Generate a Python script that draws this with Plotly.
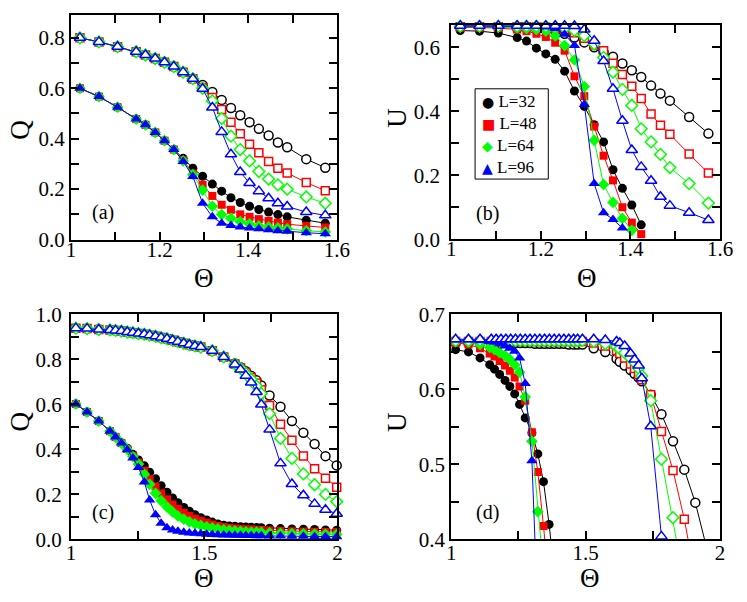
import plotly.graph_objects as go

FONT = "Liberation Serif, Times New Roman, serif"
SIZES_L = [32, 48, 64, 96]
COLORS = {32: "#000000", 48: "#ff0000", 64: "#00ff00", 96: "#0000ff"}
SYMBOLS = {32: "circle", 48: "square", 64: "diamond", 96: "triangle-up"}
GLYPHS = {32: "●", 48: "■", 64: "◆", 96: "▲"}
MSIZE = {32: 9, 48: 8, 64: 9, 96: 10}

# ---------------- panel (a): Q vs Theta ----------------
theta_a = [1.02, 1.063, 1.105, 1.147, 1.168, 1.19, 1.211, 1.232, 1.253, 1.275, 1.297,
           1.319, 1.34, 1.361, 1.382, 1.403, 1.424, 1.446, 1.467, 1.488, 1.531, 1.574]

qa_fill_32 = [0.600, 0.567, 0.525, 0.478, 0.455, 0.425, 0.392, 0.357, 0.322, 0.283, 0.251,
              0.220, 0.192, 0.166, 0.147, 0.132, 0.119, 0.109, 0.099, 0.090, 0.077, 0.065]
qa_fill_48 = [0.600, 0.567, 0.525, 0.478, 0.455, 0.425, 0.392, 0.357, 0.315, 0.262, 0.217,
              0.173, 0.138, 0.118, 0.100, 0.090, 0.081, 0.074, 0.067, 0.061, 0.054, 0.048]
qa_fill_64 = [0.600, 0.567, 0.525, 0.478, 0.455, 0.425, 0.392, 0.357, 0.312, 0.258, 0.196,
              0.132, 0.099, 0.084, 0.071, 0.062, 0.054, 0.050, 0.046, 0.042, 0.035, 0.030]
qa_fill_96 = [0.600, 0.567, 0.525, 0.478, 0.455, 0.425, 0.392, 0.357, 0.310, 0.250, 0.144,
              0.090, 0.065, 0.056, 0.050, 0.046, 0.043, 0.039, 0.035, 0.033, 0.027, 0.023]

qa_open_32 = [0.800, 0.784, 0.765, 0.745, 0.732, 0.718, 0.703, 0.686, 0.664, 0.638, 0.613,
              0.585, 0.554, 0.522, 0.493, 0.465, 0.439, 0.413, 0.385, 0.366, 0.319, 0.285]
qa_open_48 = [0.800, 0.784, 0.765, 0.745, 0.732, 0.718, 0.703, 0.686, 0.664, 0.638, 0.603,
              0.563, 0.516, 0.465, 0.420, 0.378, 0.344, 0.310, 0.283, 0.264, 0.226, 0.194]
qa_open_64 = [0.800, 0.784, 0.765, 0.745, 0.732, 0.718, 0.703, 0.686, 0.664, 0.638, 0.600,
              0.550, 0.480, 0.410, 0.357, 0.312, 0.270, 0.240, 0.217, 0.200, 0.169, 0.144]
qa_open_96 = [0.800, 0.784, 0.765, 0.745, 0.732, 0.718, 0.703, 0.686, 0.664, 0.638, 0.598,
              0.524, 0.427, 0.338, 0.268, 0.224, 0.192, 0.164, 0.144, 0.131, 0.109, 0.096]

# ---------------- panel (b): U vs Theta ----------------
theta_b = theta_a

ub_fill_32 = [0.652, 0.650, 0.644, 0.630, 0.619, 0.597, 0.579, 0.562, 0.525, 0.463, 0.415,
              0.358, 0.304, 0.217, 0.159, 0.107, 0.045]
ub_fill_48 = [0.662, 0.662, 0.660, 0.655, 0.650, 0.642, 0.632, 0.614, 0.589, 0.509, 0.447,
              0.352, 0.261, 0.184, 0.100, 0.052, 0.016]
ub_fill_64 = [0.664, 0.664, 0.663, 0.660, 0.658, 0.655, 0.650, 0.635, 0.605, 0.560, 0.477,
              0.309, 0.171, 0.115, 0.065, 0.028]
ub_fill_96 = [0.666, 0.666, 0.666, 0.666, 0.666, 0.665, 0.663, 0.658, 0.640, 0.605, 0.421,
              0.174, 0.083, 0.062, 0.035]

ub_open_32 = [0.663, 0.663, 0.662, 0.661, 0.660, 0.658, 0.655, 0.650, 0.642, 0.630, 0.615,
              0.600, 0.584, 0.570, 0.549, 0.528, 0.507, 0.480, 0.455, 0.433, 0.382, 0.330]
ub_open_48 = [0.664, 0.664, 0.664, 0.664, 0.664, 0.663, 0.662, 0.660, 0.655, 0.645, 0.628,
              0.607, 0.589, 0.550, 0.515, 0.478, 0.440, 0.391, 0.356, 0.328, 0.266, 0.207]
ub_open_64 = [0.665, 0.665, 0.665, 0.665, 0.665, 0.665, 0.664, 0.663, 0.660, 0.652, 0.636,
              0.610, 0.568, 0.522, 0.468, 0.418, 0.345, 0.304, 0.265, 0.224, 0.174, 0.113]
ub_open_96 = [0.667, 0.667, 0.667, 0.667, 0.667, 0.667, 0.667, 0.667, 0.667, 0.666, 0.655,
              0.620, 0.557, 0.470, 0.370, 0.279, 0.226, 0.183, 0.133, 0.105, 0.083, 0.060]

# ---------------- panel (c): Q vs Theta ----------------
theta_c_hi = [1.018, 1.06, 1.104, 1.146, 1.167, 1.189, 1.211, 1.232, 1.253, 1.275, 1.295,
              1.317, 1.338, 1.36, 1.381, 1.401, 1.423, 1.444, 1.465, 1.487, 1.53, 1.573,
              1.615, 1.636, 1.656, 1.676, 1.696, 1.714, 1.745, 1.786, 1.829, 1.872, 1.914,
              1.955, 1.997]
qc_open_32 = [0.939, 0.937, 0.933, 0.931, 0.929, 0.926, 0.922, 0.919, 0.915, 0.912, 0.908,
              0.903, 0.897, 0.892, 0.885, 0.879, 0.872, 0.865, 0.860, 0.855, 0.839, 0.811,
              0.782, 0.765, 0.747, 0.727, 0.707, 0.684, 0.640, 0.590, 0.526, 0.474, 0.424,
              0.370, 0.329]
qc_open_48 = [0.939, 0.937, 0.933, 0.931, 0.929, 0.926, 0.922, 0.919, 0.915, 0.912, 0.908,
              0.903, 0.897, 0.892, 0.885, 0.879, 0.872, 0.865, 0.860, 0.855, 0.839, 0.811,
              0.780, 0.762, 0.742, 0.720, 0.695, 0.665, 0.595, 0.512, 0.441, 0.371, 0.314,
              0.272, 0.232]
qc_open_64 = [0.939, 0.937, 0.933, 0.931, 0.929, 0.926, 0.922, 0.919, 0.915, 0.912, 0.908,
              0.903, 0.897, 0.892, 0.885, 0.879, 0.872, 0.865, 0.860, 0.855, 0.839, 0.811,
              0.779, 0.760, 0.737, 0.712, 0.682, 0.648, 0.559, 0.449, 0.360, 0.291, 0.243,
              0.200, 0.168]
qc_open_96 = [0.939, 0.937, 0.933, 0.931, 0.929, 0.926, 0.922, 0.919, 0.915, 0.912, 0.908,
              0.903, 0.897, 0.892, 0.885, 0.879, 0.872, 0.865, 0.860, 0.855, 0.839, 0.811,
              0.778, 0.755, 0.728, 0.698, 0.655, 0.600, 0.488, 0.338, 0.246, 0.196, 0.158,
              0.132, 0.114]

theta_c_lo = [1.018, 1.06, 1.104, 1.146, 1.167, 1.189, 1.211, 1.232, 1.253, 1.275, 1.295,
              1.317, 1.338, 1.36, 1.381, 1.401, 1.423, 1.444, 1.465, 1.487, 1.509, 1.53,
              1.551, 1.573, 1.594, 1.615, 1.636, 1.656, 1.676, 1.696, 1.714, 1.745, 1.786,
              1.829, 1.872, 1.914, 1.955, 1.997]
qc_fill_32 = [0.602, 0.566, 0.526, 0.481, 0.455, 0.430, 0.405, 0.378, 0.353, 0.327, 0.299,
              0.270, 0.239, 0.210, 0.184, 0.163, 0.142, 0.125, 0.110, 0.096, 0.086, 0.077,
              0.069, 0.063, 0.060, 0.058, 0.056, 0.055, 0.054, 0.053, 0.052, 0.050, 0.048,
              0.046, 0.045, 0.044, 0.042, 0.041]
qc_fill_48 = [0.602, 0.566, 0.526, 0.481, 0.455, 0.428, 0.402, 0.372, 0.342, 0.305, 0.268,
              0.235, 0.204, 0.178, 0.155, 0.135, 0.118, 0.104, 0.092, 0.082, 0.074, 0.066,
              0.060, 0.055, 0.052, 0.049, 0.047, 0.045, 0.044, 0.043, 0.042, 0.040, 0.038,
              0.036, 0.035, 0.034, 0.033, 0.033]
qc_fill_64 = [0.602, 0.566, 0.526, 0.481, 0.455, 0.428, 0.400, 0.368, 0.335, 0.290, 0.245,
              0.205, 0.172, 0.145, 0.122, 0.104, 0.090, 0.078, 0.069, 0.062, 0.056, 0.051,
              0.047, 0.043, 0.040, 0.038, 0.036, 0.034, 0.033, 0.032, 0.031, 0.029, 0.027,
              0.026, 0.025, 0.024, 0.023, 0.022]
qc_fill_96 = [0.602, 0.566, 0.526, 0.481, 0.455, 0.428, 0.398, 0.362, 0.320, 0.255, 0.175,
              0.110, 0.072, 0.052, 0.042, 0.036, 0.032, 0.029, 0.027, 0.025, 0.023, 0.022,
              0.021, 0.020, 0.019, 0.018, 0.018, 0.017, 0.017, 0.016, 0.016, 0.015, 0.015,
              0.014, 0.014, 0.013, 0.013, 0.012]

# ---------------- panel (d): U vs Theta ----------------
theta_d_hi = [1.016, 1.064, 1.107, 1.149, 1.167, 1.185, 1.203, 1.221, 1.239, 1.257, 1.275,
              1.293, 1.311, 1.329, 1.347, 1.365, 1.383, 1.401, 1.419, 1.437, 1.455, 1.47,
              1.488, 1.53, 1.573, 1.615, 1.627, 1.645, 1.667, 1.682, 1.697, 1.709, 1.742,
              1.782, 1.825, 1.867, 1.908, 1.95]
ud_open_32 = [0.662, 0.662, 0.662, 0.662, 0.662, 0.662, 0.662, 0.662, 0.662, 0.662, 0.662,
              0.662, 0.661, 0.661, 0.661, 0.661, 0.661, 0.661, 0.661, 0.660, 0.660, 0.660,
              0.660, 0.655, 0.650, 0.641, 0.637, 0.632, 0.626, 0.621, 0.616, 0.611, 0.593,
              0.567, 0.531, 0.493, 0.449, 0.389]
ud_open_48 = [0.664, 0.664, 0.664, 0.664, 0.664, 0.664, 0.664, 0.664, 0.664, 0.664, 0.664,
              0.664, 0.664, 0.664, 0.664, 0.664, 0.664, 0.664, 0.664, 0.664, 0.664, 0.664,
              0.664, 0.662, 0.658, 0.652, 0.648, 0.642, 0.634, 0.628, 0.620, 0.613, 0.593,
              0.544, 0.492, 0.427, 0.348]
ud_open_64 = [0.665, 0.665, 0.665, 0.665, 0.665, 0.665, 0.665, 0.665, 0.665, 0.665, 0.665,
              0.665, 0.665, 0.665, 0.665, 0.665, 0.665, 0.665, 0.665, 0.665, 0.665, 0.665,
              0.665, 0.664, 0.661, 0.657, 0.654, 0.649, 0.642, 0.636, 0.628, 0.618, 0.585,
              0.507, 0.429, 0.342]
ud_open_96 = [0.667, 0.667, 0.667, 0.667, 0.667, 0.667, 0.667, 0.667, 0.667, 0.667, 0.667,
              0.667, 0.667, 0.667, 0.667, 0.667, 0.667, 0.667, 0.667, 0.667, 0.667, 0.667,
              0.667, 0.667, 0.666, 0.664, 0.662, 0.658, 0.648, 0.640, 0.632, 0.615, 0.551,
              0.404, 0.270]

theta_d_lo = [1.016, 1.064, 1.107, 1.143, 1.161, 1.18, 1.2, 1.218, 1.236, 1.254, 1.275,
              1.3, 1.322, 1.343, 1.364, 1.385]
ud_fill_32 = [0.653, 0.650, 0.642, 0.633, 0.627, 0.620, 0.612, 0.604, 0.594, 0.580, 0.562,
              0.542, 0.514, 0.477, 0.420, 0.350]
ud_fill_48 = [0.662, 0.660, 0.655, 0.648, 0.644, 0.638, 0.632, 0.625, 0.616, 0.604, 0.585,
              0.543, 0.490, 0.418, 0.340]
ud_fill_64 = [0.664, 0.663, 0.660, 0.656, 0.653, 0.649, 0.645, 0.640, 0.633, 0.623, 0.590,
              0.531, 0.437, 0.360]
ud_fill_96 = [0.666, 0.666, 0.665, 0.664, 0.663, 0.661, 0.658, 0.655, 0.651, 0.642, 0.608,
              0.505, 0.300]

panels = [
    ("x", "y", theta_a, theta_a,
     {32: qa_fill_32, 48: qa_fill_48, 64: qa_fill_64, 96: qa_fill_96},
     {32: qa_open_32, 48: qa_open_48, 64: qa_open_64, 96: qa_open_96}, False),
    ("x2", "y2", theta_b, theta_b,
     {32: ub_fill_32, 48: ub_fill_48, 64: ub_fill_64, 96: ub_fill_96},
     {32: ub_open_32, 48: ub_open_48, 64: ub_open_64, 96: ub_open_96}, False),
    ("x3", "y3", theta_c_lo, theta_c_hi,
     {32: qc_fill_32, 48: qc_fill_48, 64: qc_fill_64, 96: qc_fill_96},
     {32: qc_open_32, 48: qc_open_48, 64: qc_open_64, 96: qc_open_96}, False),
    ("x4", "y4", theta_d_lo, theta_d_hi,
     {32: ud_fill_32, 48: ud_fill_48, 64: ud_fill_64, 96: ud_fill_96},
     {32: ud_open_32, 48: ud_open_48, 64: ud_open_64, 96: ud_open_96}, True),
]

fig = go.Figure()

for xa, ya, x_lo, x_hi, filled, opened, clip in panels:
    for L in SIZES_L:
        c = COLORS[L]
        fig.add_trace(go.Scatter(
            x=x_lo[:len(filled[L])], y=filled[L], mode="lines+markers",
            xaxis=xa, yaxis=ya, showlegend=False, cliponaxis=clip, hoverinfo="skip",
            line=dict(color=c, width=1),
            marker=dict(symbol=SYMBOLS[L], size=MSIZE[L], color=c, line=dict(width=0))))
        fig.add_trace(go.Scatter(
            x=x_hi[:len(opened[L])], y=opened[L], mode="lines+markers",
            xaxis=xa, yaxis=ya, showlegend=False, cliponaxis=clip, hoverinfo="skip",
            line=dict(color=c, width=1),
            marker=dict(symbol=SYMBOLS[L], size=MSIZE[L], color="white",
                        line=dict(color=c, width=1.5))))

W, H = 747, 602


def px_x(p):
    return p / W


def px_y(p):
    return 1 - p / H


def axis(a0, a1, rng, dtick, minor, fmt=None, anchor=None, standoff=0, vertical=False):
    dom = [px_y(a1), px_y(a0)] if vertical else [px_x(a0), px_x(a1)]
    d = dict(domain=dom, range=rng, dtick=dtick, tick0=rng[0],
             showline=True, mirror="ticks", linecolor="black", linewidth=2,
             ticks="inside", ticklen=8, tickwidth=2, tickcolor="black",
             minor=dict(dtick=minor, ticks="inside", ticklen=8, tickwidth=2,
                        tickcolor="black", showgrid=False),
             tickfont=dict(family=FONT, size=21, color="black"),
             ticklabelstandoff=standoff,
             showgrid=False, zeroline=False, anchor=anchor)
    if fmt:
        d["tickformat"] = fmt
    return d


fig.update_layout(
    width=W, height=H,
    margin=dict(l=0, r=0, t=0, b=0),
    paper_bgcolor="white", plot_bgcolor="white",
    showlegend=False,
    xaxis=axis(67.7, 340, [1, 1.6], 0.2, 0.1, anchor="y", standoff=-10),
    yaxis=axis(3.3, 237, [0, 0.89], 0.2, 0.1, ".1f", anchor="x", vertical=True),
    xaxis2=axis(457.3, 732.7, [1, 1.6], 0.2, 0.1, anchor="y2", standoff=-10),
    yaxis2=axis(13.3, 236.7, [0, 0.67], 0.2, 0.1, ".1f", anchor="x2", standoff=5,
                vertical=True),
    xaxis3=axis(67.7, 340.7, [1, 2], 0.5, 0.25, anchor="y3", standoff=-7),
    yaxis3=axis(315, 549.3, [0, 1.0], 0.2, 0.1, ".1f", anchor="x3", standoff=3,
                vertical=True),
    xaxis4=axis(457.3, 732.7, [1, 2], 0.5, 0.25, anchor="y4", standoff=-7),
    yaxis4=axis(315, 549.3, [0.4, 0.7], 0.1, 0.05, ".1f", anchor="x4", vertical=True),
)

# legend box in panel (b)
fig.add_shape(type="rect", xref="paper", yref="paper",
              x0=px_x(481.7), x1=px_x(556.7), y0=px_y(174), y1=px_y(80),
              line=dict(color="black", width=1), fillcolor="white", layer="above")
legend_text = "<br>".join(
    f"<span style='color:{COLORS[L]};font-family:DejaVu Sans;font-size:14px'>{GLYPHS[L]}</span>"
    f" L={L}" for L in SIZES_L)
fig.add_annotation(text=legend_text, x=px_x(487), y=px_y(127.5), xref="paper", yref="paper",
                   showarrow=False, xanchor="left", yanchor="middle", align="left",
                   font=dict(family=FONT, size=17, color="black"))

# axis titles and panel labels
labels = [
    ("Q", 15, 123, -90), ("U", 401.7, 110, -90), ("Q", 15, 427, -90), ("U", 401.7, 427, -90),
    ("Θ", 204, 277, 0), ("Θ", 596.7, 277, 0), ("Θ", 204, 590, 0), ("Θ", 599, 590, 0),
]
for txt, px, py, ang in labels:
    fig.add_annotation(text=txt, x=px_x(px), y=px_y(py), xref="paper", yref="paper",
                       showarrow=False, textangle=ang, xanchor="center", yanchor="middle",
                       font=dict(family=FONT, size=27, color="black"))

for txt, px, py in [("(a)", 100, 209), ("(b)", 494, 210), ("(c)", 100, 521), ("(d)", 494, 521)]:
    fig.add_annotation(text=txt, x=px_x(px), y=px_y(py), xref="paper", yref="paper",
                       showarrow=False, xanchor="center", yanchor="middle",
                       font=dict(family=FONT, size=20, color="black"))

# the page body has a default margin; drop it so the figure sits at the window corner
fig.write_html("out.html", config={"displayModeBar": False},
               post_script="document.body.style.margin='0';")
